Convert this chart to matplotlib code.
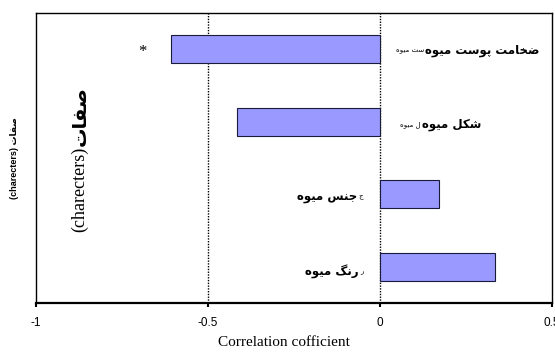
import matplotlib
matplotlib.use("Agg")
import matplotlib.pyplot as plt

# data (top bar first)
characters = ["ضخامت پوست میوه", "شکل میوه", "جنس میوه", "رنگ میوه"]
stubs = ["ست میوه", "ل میوه", "ج", "ر"]
correlation = [-0.608, -0.416, 0.172, 0.334]
xticks = [-1, -0.5, 0, 0.5]
xticklabels = ["-1", "-0.5", "0", "0.5"]

# matplotlib has no arabic shaping, so pick presentation forms by hand
# (isolated, final, initial, medial)
FORMS = {
    "ا": ("\uFE8D", "\uFE8E", None, None),
    "ت": ("\uFE95", "\uFE96", "\uFE97", "\uFE98"),
    "ج": ("\uFE9D", "\uFE9E", "\uFE9F", "\uFEA0"),
    "خ": ("\uFEA5", "\uFEA6", "\uFEA7", "\uFEA8"),
    "ر": ("\uFEAD", "\uFEAE", None, None),
    "س": ("\uFEB1", "\uFEB2", "\uFEB3", "\uFEB4"),
    "ش": ("\uFEB5", "\uFEB6", "\uFEB7", "\uFEB8"),
    "ص": ("\uFEB9", "\uFEBA", "\uFEBB", "\uFEBC"),
    "ض": ("\uFEBD", "\uFEBE", "\uFEBF", "\uFEC0"),
    "ف": ("\uFED1", "\uFED2", "\uFED3", "\uFED4"),
    "ل": ("\uFEDD", "\uFEDE", "\uFEDF", "\uFEE0"),
    "م": ("\uFEE1", "\uFEE2", "\uFEE3", "\uFEE4"),
    "ن": ("\uFEE5", "\uFEE6", "\uFEE7", "\uFEE8"),
    "ه": ("\uFEE9", "\uFEEA", "\uFEEB", "\uFEEC"),
    "و": ("\uFEED", "\uFEEE", None, None),
    "پ": ("\uFB56", "\uFB57", "\uFB58", "\uFB59"),
    "ک": ("\uFB8E", "\uFB8F", "\uFB90", "\uFB91"),
    "گ": ("\uFB92", "\uFB93", "\uFB94", "\uFB95"),
    "ی": ("\uFBFC", "\uFBFD", "\uFBFE", "\uFBFF"),
}


def shape(text):
    out = []
    for i, c in enumerate(text):
        if c not in FORMS:
            out.append(c)
            continue
        prev = text[i - 1] if i > 0 else ""
        nxt = text[i + 1] if i + 1 < len(text) else ""
        join_prev = prev in FORMS and FORMS[prev][2] is not None
        join_next = FORMS[c][2] is not None and nxt in FORMS
        iso, fin, ini, med = FORMS[c]
        if join_prev and join_next:
            out.append(med)
        elif join_prev:
            out.append(fin)
        elif join_next:
            out.append(ini)
        else:
            out.append(iso)
    return "".join(reversed(out))


ARABIC = ["DejaVu Sans"]
SANS = ["Liberation Sans", "DejaVu Sans"]
SERIF = ["Liberation Serif", "DejaVu Serif"]

fig = plt.figure(figsize=(5.55, 3.54), dpi=100)
ax = fig.add_axes([36 / 555, 1 - 303 / 354, 516 / 555, 290 / 354])

ypos = [4, 3, 2, 1]
ax.barh(ypos, correlation, height=0.39, color="#9999ff", edgecolor="#1a1a3a", linewidth=0.8, zorder=3)

for x in [-0.5, 0]:
    ax.axvline(x, color="black", linestyle=(0, (1, 1)), linewidth=1.0, zorder=2)

ax.set_xlim(-1, 0.5)
ax.set_ylim(0.5, 4.5)
ax.set_yticks([])
ax.set_xticks(xticks)
ax.set_xticklabels(xticklabels, family=SANS, fontsize=8.5)
ax.tick_params(axis="x", direction="out", length=3, width=1.5, pad=7)

ax.spines["top"].set_linewidth(1.0)
ax.spines["bottom"].set_linewidth(1.6)
for side in ["left", "right"]:
    ax.spines[side].set_linestyle((0, (1, 1)))
    ax.spines[side].set_linewidth(1.0)

ax.set_xlabel("Correlation cofficient", family=SERIF, fontsize=11)
ax.xaxis.set_label_coords(0.48, -0.115)

# category labels as they sit in the original, each with its stray stub
label_x = [0.462, 0.294, -0.067, -0.061]
label_y = [3.98, 2.96, 1.96, 0.93]
for y, name, stub, lx in zip(label_y, characters, stubs, label_x):
    t = ax.text(lx, y, shape(name), family=ARABIC, fontweight="bold", fontsize=8.5,
                ha="right", va="center", zorder=4)
    if lx > 0:
        ax.annotate(shape(stub), xy=(0, 0.5), xycoords=t, xytext=(-0.5, 0),
                    textcoords="offset points", family=ARABIC, fontsize=5,
                    ha="right", va="center")
    else:
        ax.annotate(shape(stub), xy=(1, 0.5), xycoords=t, xytext=(1, 0),
                    textcoords="offset points", family=ARABIC, fontsize=5,
                    ha="left", va="center")

ax.text(-0.692, 3.96, "*", family=SERIF, fontsize=12, ha="center", va="center")

# big inner axis title
fig.text(80 / 555, 1 - 232 / 354, "(charecters)", family=SERIF, fontsize=13,
         rotation=90, ha="center", va="bottom")
fig.text(80 / 555, 1 - 146 / 354, shape("صفات"), family=ARABIC, fontweight="bold",
         fontsize=14, rotation=90, ha="center", va="bottom")

# small outer y label
fig.text(15 / 555, 1 - 158 / 354, "(charecters) " + shape("صفات"), family=SANS,
         fontweight="bold", fontsize=6.5, rotation=90, ha="center", va="center")

fig.savefig("out.png", dpi=100)
